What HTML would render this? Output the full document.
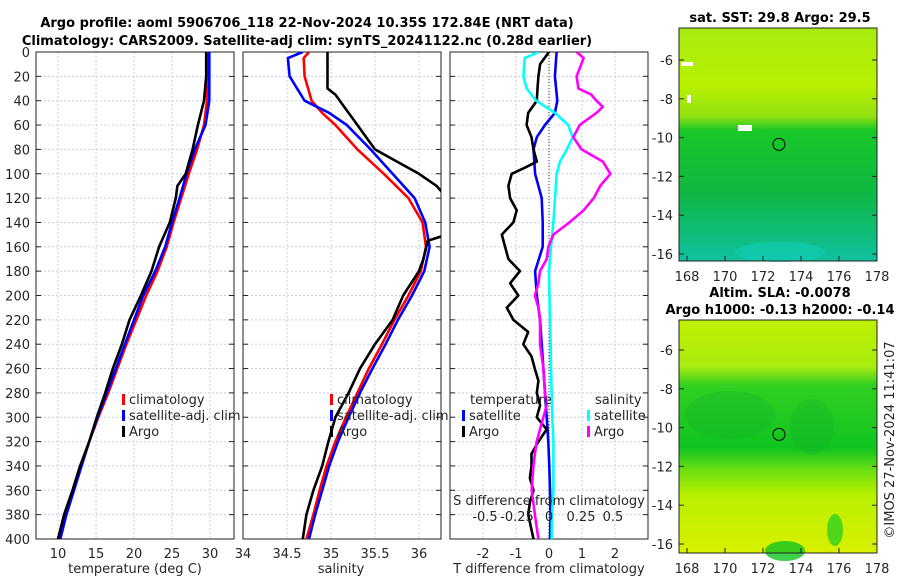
<!DOCTYPE html>
<html><head><meta charset="utf-8"><style>
body{margin:0;background:#fff;}
svg{display:block;font-family:"DejaVu Sans","Liberation Sans",sans-serif;}
.t{font-size:13px;fill:#262626;}
.b{font-size:13px;font-weight:bold;fill:#000;}
</style></head><body>
<svg id="c" width="900" height="580" viewBox="0 0 900 580">
<defs>
<clipPath id="cp1"><rect x="36" y="52" width="198" height="487"/></clipPath>
<clipPath id="cp2"><rect x="243" y="52" width="198" height="487"/></clipPath>
<clipPath id="cp3"><rect x="450" y="52" width="198" height="487"/></clipPath>
<linearGradient id="g1" x1="0" y1="0" x2="0" y2="1">
<stop offset="0" stop-color="#a8ec10"/><stop offset="0.25" stop-color="#b8f000"/><stop offset="0.38" stop-color="#90e010"/>
<stop offset="0.44" stop-color="#18c828"/><stop offset="0.7" stop-color="#10b840"/><stop offset="0.85" stop-color="#10bc70"/><stop offset="1" stop-color="#10c0a0"/></linearGradient>
<linearGradient id="g2" x1="0" y1="0" x2="0" y2="1">
<stop offset="0" stop-color="#c0f000"/><stop offset="0.2" stop-color="#a8ec10"/><stop offset="0.28" stop-color="#30d020"/>
<stop offset="0.55" stop-color="#10c420"/><stop offset="0.65" stop-color="#70e010"/><stop offset="0.75" stop-color="#b8f000"/><stop offset="1" stop-color="#d8f000"/></linearGradient>
</defs>
<g id="content"></g>
</svg>
<script>
// ---------- data ----------
const depths = [0,20,40,60,80,100,120,140,160,180,200,220,240,260,280,300,320,340,360,380,400];
const tClim = [29.6,29.6,29.6,29.2,28.3,27.2,26.2,25.2,24.3,23.1,21.6,20.3,19.0,17.8,16.6,15.3,14.1,13.0,12.0,11.0,10.2];
const tSat  = [29.9,29.9,29.9,29.4,28.0,26.9,26.0,25.0,24.1,22.8,21.2,20.0,18.8,17.6,16.4,15.2,14.1,13.1,12.1,11.1,10.3];
const tArgoDepth = [0,20,40,60,80,100,110,120,140,160,180,200,220,240,260,280,300,320,340,360,380,400];
const tArgo = [29.5,29.5,29.2,28.4,27.7,26.8,25.7,25.5,24.7,23.3,22.3,20.9,19.4,18.4,17.2,16.2,15.1,14.1,12.9,11.9,10.8,10.0];
const sDepth = [0,5,20,40,50,60,80,100,120,140,160,180,200,220,240,260,280,300,320,340,360,380,400];
const sClim = [34.75,34.69,34.70,34.78,34.90,35.05,35.30,35.60,35.88,36.04,36.08,36.02,35.88,35.72,35.58,35.43,35.30,35.17,35.05,34.95,34.87,34.80,34.72];
const sSat  = [34.68,34.51,34.53,34.70,34.98,35.18,35.45,35.70,35.95,36.07,36.12,36.06,35.92,35.76,35.62,35.47,35.33,35.20,35.08,34.98,34.90,34.82,34.75];
const sArgoDepth = [0,30,35,50,60,70,80,90,100,110,120,150,155,170,180,200,220,240,260,280,300,320,340,360,380,400];
const sArgo = [34.96,34.96,35.05,35.2,35.3,35.4,35.5,35.75,36.0,36.2,36.32,36.32,36.1,36.05,36.0,35.82,35.7,35.5,35.33,35.2,35.05,34.97,34.9,34.8,34.72,34.68];
const dTsatDepth = [0,20,40,50,60,70,80,100,120,140,160,180,200,220,240,260,280,300,320,340,360,380,400];
const dTsat = [0.23,0.18,0.25,0.18,-0.12,-0.37,-0.47,-0.42,-0.22,-0.19,-0.19,-0.42,-0.37,-0.27,-0.22,-0.17,-0.12,-0.07,-0.02,0.01,0.03,0.05,0.03];
const dTargoDepth = [0,10,20,30,40,50,60,70,80,90,95,100,110,120,130,140,150,160,170,180,190,200,210,220,230,240,250,260,270,280,290,300,310,320,330,340,350,360,370,380,400];
const dTargo = [0,-0.27,-0.32,-0.35,-0.37,-0.63,-0.68,-0.53,-0.47,-0.37,-0.73,-1.13,-1.23,-1.18,-0.98,-1.08,-1.43,-1.33,-1.23,-0.88,-1.18,-0.93,-1.28,-1.08,-0.63,-0.78,-0.53,-0.43,-0.32,-0.37,-0.27,-0.37,-0.07,-0.32,-0.53,-0.53,-0.58,-0.47,-0.58,-0.63,-0.47];
const dSsatDepth = [0,5,20,30,40,50,60,70,80,90,100,120,140,160,180,200,220,240,260,280,300,320,340,360,380,400];
const dSsat = [-0.083,-0.19,-0.2,-0.175,-0.1,0.047,0.15,0.185,0.14,0.086,0.06,0.047,0.034,0.016,0,0.003,0.008,0.013,0.016,0.021,0.026,0.034,0.034,0.034,0.023,0.021];
const dSargoDepth = [0,5,20,30,35,40,45,50,60,70,80,90,100,110,120,130,140,150,160,170,180,190,200,210,220,240,260,280,290,300,310,320,330,340,360,380,400];
const dSargo = [0.216,0.27,0.216,0.23,0.33,0.37,0.42,0.37,0.24,0.19,0.255,0.42,0.48,0.4,0.35,0.27,0.16,0.034,-0.005,-0.018,-0.07,-0.083,-0.11,-0.083,-0.07,-0.07,-0.044,-0.031,-0.018,-0.044,-0.07,-0.096,-0.11,-0.122,-0.135,-0.11,-0.083];
const tTicks = [10,15,20,25,30];
const sTicks = [34,34.5,35,35.5,36];
const dTTicks = [-2,-1,0,1,2];
const dSTicks = [-0.5,-0.25,0,0.25,0.5];
const depthTicks = [0,20,40,60,80,100,120,140,160,180,200,220,240,260,280,300,320,340,360,380,400];
const lonTicks = [168,170,172,174,176,178];
const latTicks = [-6,-8,-10,-12,-14,-16];

// ---------- axes ----------
const Y0=52, Y1=539;
const yD = d => Y0 + d/400*(Y1-Y0);
const xT = t => 36 + (t-7.1)*7.6;
const xS = s => 243 + (s-34)*88;
const xDT = t => 549 + t*33;
const xDS = s => 549 + s*128;
const mapX = lon => 687 + (lon-168)*19;
const map1Y = lat => 60 + (-6-lat)*19.4;
const map2Y = lat => 350 + (-6-lat)*19.4;

const NS="http://www.w3.org/2000/svg";
const root=document.getElementById('content');
function mk(tag, attrs, parent){const e=document.createElementNS(NS,tag);for(const k in attrs)e.setAttribute(k,attrs[k]);(parent||root).appendChild(e);return e;}
function txt(x,y,s,cls,anchor,parent){const e=mk('text',{x:x,y:y,class:cls||'t','text-anchor':anchor||'middle'},parent);e.textContent=s;return e;}
function line(xf, ds, vs, color, clip, name){
  const pts = ds.map((d,i)=>xf(vs[i]).toFixed(1)+','+yD(d).toFixed(1)).join(' ');
  const p = mk('polyline',{points:pts,fill:'none',stroke:color,'stroke-width':2.6,'stroke-linejoin':'round','clip-path':'url(#'+clip+')'});
  
  
}
function panel(x0, name){
  const g = mk('g',{});
  
  
  depthTicks.forEach(d=>{
    mk('line',{x1:x0,x2:x0+198,y1:yD(d),y2:yD(d),stroke:'#c8cde8','stroke-width':1,'stroke-dasharray':'2,2'},g);
    mk('line',{x1:x0,x2:x0+5,y1:yD(d),y2:yD(d),stroke:'#222'},g);
    mk('line',{x1:x0+193,x2:x0+198,y1:yD(d),y2:yD(d),stroke:'#222'},g);
  });
  return g;
}
// panel 1
const p1 = panel(36,'temperature-panel');
tTicks.forEach(t=>{mk('line',{x1:xT(t),x2:xT(t),y1:Y0,y2:Y1,stroke:'#c8cde8','stroke-dasharray':'2,2'},p1);
  const l=txt(xT(t),558,String(t),'t','middle',p1);  });
depthTicks.forEach(d=>{const l=txt(30,yD(d)+5,String(d),'t','end');  });
line(xT, depths, tClim, '#ff0000','cp1','temp-climatology-line');
line(xT, depths, tSat, '#0000ff','cp1','temp-satellite-line');
line(xT, tArgoDepth, tArgo, '#000000','cp1','temp-argo-line');
mk('rect',{x:36,y:52,width:198,height:487,fill:'none',stroke:'#222'},p1);
txt(135,573,'temperature (deg C)');

// panel 2
const p2 = panel(243,'salinity-panel');
sTicks.forEach(s=>{mk('line',{x1:xS(s),x2:xS(s),y1:Y0,y2:Y1,stroke:'#c8cde8','stroke-dasharray':'2,2'},p2);
  const l=txt(xS(s),558,String(s),'t','middle',p2);  });
line(xS, sDepth, sClim, '#ff0000','cp2','sal-climatology-line');
line(xS, sDepth, sSat, '#0000ff','cp2','sal-satellite-line');
line(xS, sArgoDepth, sArgo, '#000000','cp2','sal-argo-line');
mk('rect',{x:243,y:52,width:198,height:487,fill:'none',stroke:'#222'},p2);
txt(341,573,'salinity');

// panel 3
const p3 = panel(450,'difference-panel');
dTTicks.forEach(t=>{mk('line',{x1:xDT(t),x2:xDT(t),y1:Y0,y2:Y1,stroke:'#c8cde8','stroke-dasharray':'2,2'},p3);
  const l=txt(xDT(t),558,String(t),'t','middle',p3);  });
mk('line',{x1:549,x2:549,y1:Y0,y2:Y1,stroke:'#333','stroke-dasharray':'1,2'},p3);
line(xDT, dTsatDepth, dTsat, '#0000ff','cp3','dT-satellite-line');
line(xDT, dTargoDepth, dTargo, '#000000','cp3','dT-argo-line');
line(xDS, dSsatDepth, dSsat, '#00ffff','cp3','dS-satellite-line');
line(xDS, dSargoDepth, dSargo, '#ff00ff','cp3','dS-argo-line');
mk('rect',{x:450,y:52,width:198,height:487,fill:'none',stroke:'#222'},p3);
txt(549,573,'T difference from climatology');
txt(549,505,'S difference from climatology');
dSTicks.forEach(s=>{const l=txt(xDS(s),521,String(s),'t','middle');  });

// legends
function leg(x,y,color,label,name){
  mk('rect',{x:x,y:y-10,width:3,height:11,fill:color});
  const l=txt(x+7,y,label,'t','start');  
}
leg(122,404,'#ff0000','climatology','legend-climatology');
leg(122,420,'#0000ff','satellite-adj. clim','legend-satellite');
leg(122,436,'#000','Argo','legend-argo');
leg(330,404,'#ff0000','climatology','legend-climatology-2');
leg(330,420,'#0000ff','satellite-adj. clim','legend-satellite-2');
leg(330,436,'#000','Argo','legend-argo-2');
txt(470,404,'temperature','t','start');
leg(462,420,'#0000ff','satellite','legend-dT-satellite');
leg(462,436,'#000','Argo','legend-dT-argo');
txt(595,404,'salinity','t','start');
leg(587,420,'#00ffff','satellite','legend-dS-satellite');
leg(587,436,'#ff00ff','Argo','legend-dS-argo');

// titles
txt(307,27,'Argo profile: aoml 5906706_118 22-Nov-2024 10.35S 172.84E (NRT data)','b');
txt(307,45,'Climatology: CARS2009. Satellite-adj clim: synTS_20241122.nc (0.28d earlier)','b');

// maps
function map(y0, fill, yf, name, extras){
  const g=mk('g',{});  
  mk('rect',{x:679,y:y0,width:198,height:233,fill:fill},g);
  extras(g);
  mk('circle',{cx:mapX(172.84),cy:yf(-10.35),r:6,fill:'none',stroke:'#000'},g);
  mk('rect',{x:679,y:y0,width:198,height:233,fill:'none',stroke:'#222'},g);
  lonTicks.forEach(l=>{mk('line',{x1:mapX(l),x2:mapX(l),y1:y0+233,y2:y0+228,stroke:'#222'},g);txt(mapX(l),y0+253,String(l),'t','middle',g);});
  latTicks.forEach(l=>{mk('line',{x1:679,x2:684,y1:yf(l),y2:yf(l),stroke:'#222'},g);mk('line',{x1:872,x2:877,y1:yf(l),y2:yf(l),stroke:'#222'},g);txt(673,yf(l)+5,String(l),'t','end',g);});
}
map(28,'url(#g1)',map1Y,'sst-map',g=>{
  mk('ellipse',{cx:780,cy:252,rx:45,ry:10,fill:'#10d0c0',opacity:0.5},g);
  mk('rect',{x:681,y:62,width:12,height:4,fill:'#fff'},g);
  mk('rect',{x:738,y:125,width:14,height:6,fill:'#fff'},g);
  mk('rect',{x:687,y:95,width:4,height:8,fill:'#fff'},g);
});
map(320,'url(#g2)',map2Y,'sla-map',g=>{
  mk('ellipse',{cx:730,cy:415,rx:45,ry:24,fill:'#10b030',opacity:0.3},g);
  mk('ellipse',{cx:812,cy:427,rx:22,ry:28,fill:'#10b030',opacity:0.3},g);
  mk('ellipse',{cx:835,cy:530,rx:8,ry:16,fill:'#30d020',opacity:0.8},g);
  mk('ellipse',{cx:785,cy:551,rx:20,ry:10,fill:'#10c420',opacity:0.8},g);
});
txt(780,22,'sat. SST: 29.8 Argo: 29.5','b');
txt(780,297,'Altim. SLA: -0.0078','b');
txt(780,314,'Argo h1000: -0.13 h2000: -0.14','b');
const side=txt(0,0,'\u00A9IMOS 27-Nov-2024 11:41:07','t','middle');
side.setAttribute('transform','translate(894,440) rotate(-90)');


</script>
</body></html>
